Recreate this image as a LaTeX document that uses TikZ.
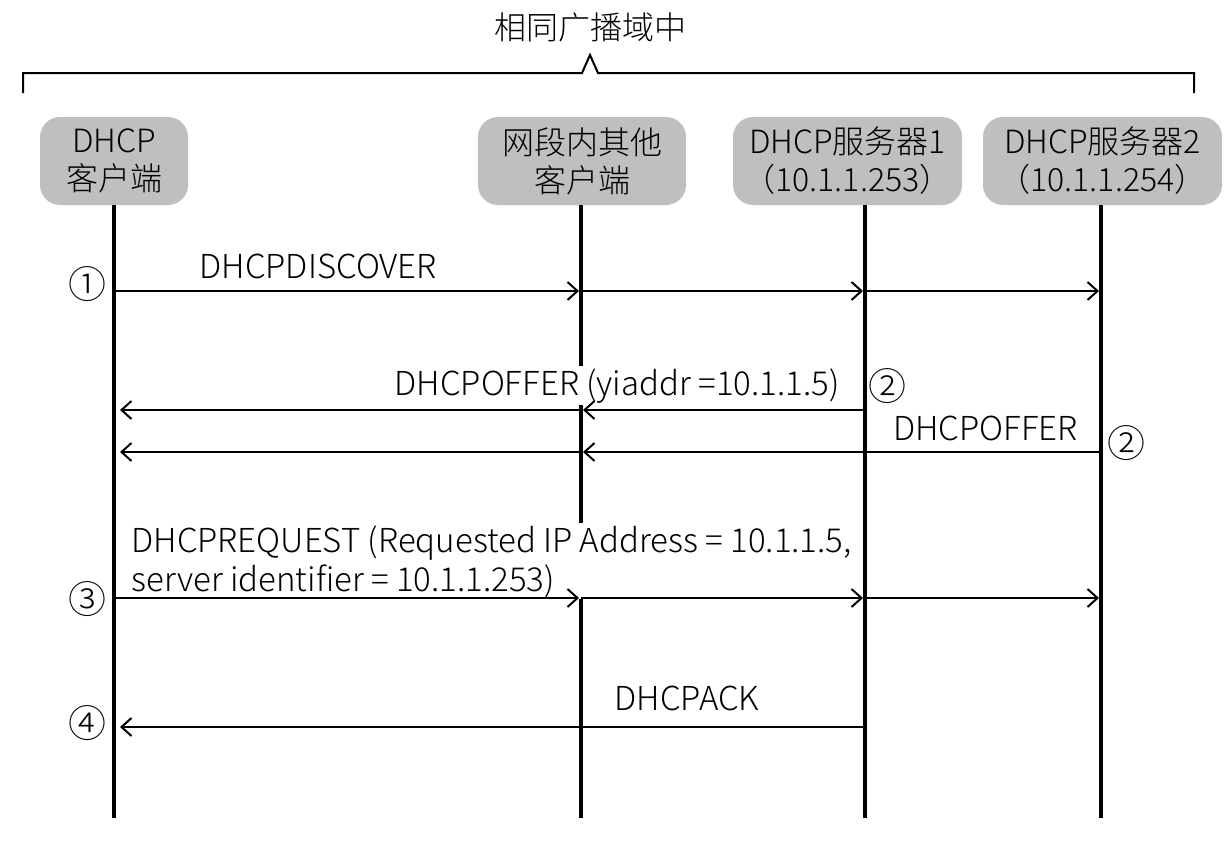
\documentclass[tikz,border=0pt]{standalone}
\usepackage{fontspec}
\newfontfamily\cjk{Noto Sans CJK SC}[UprightFont={* Light}]
\usetikzlibrary{arrows.meta,positioning}
\tikzset{
    host/.style={fill=black!25, rounded corners=10pt, align=center, inner sep=0pt,
        minimum height=44pt, font=\cjk\fontsize{16}{19}\selectfont},
    lifeline/.style={line width=2pt},
    msg/.style={line width=1pt, shorten >=1pt, -{Straight Barb[length=5pt,width=9pt]}},
    msgtext/.style={fill=white, inner sep=1pt, anchor=base west, align=left,
        font=\cjk\fontsize{16.5}{19.5}\selectfont},
    stepno/.style={inner sep=0pt, font=\cjk\fontsize{19}{19}\selectfont},
}

\begin{document}
\begin{tikzpicture}[x=0.5pt, y=-0.5pt]
    \useasboundingbox (0,0) rectangle (1226,846);

    \node [font=\cjk\fontsize{16}{19}\selectfont] (domain) at (590,27) {相同广播域中};
    \draw [line width=1pt] (23,93) -- (23,73) -- (582,73) -- (590,55) -- (598,73) -- (1194,73) -- (1194,93);

    \node [host, minimum width=74pt] (client) at (114,161) {DHCP\\客户端};
    \node [host, minimum width=104pt] (others) at (582,161) {网段内其他\\客户端};
    \node [host, minimum width=114.5pt] (srv1) at (847.5,161) {DHCP服务器1\\（10.1.1.253）};
    \node [host, minimum width=119.5pt] (srv2) at (1102.5,161) {DHCP服务器2\\（10.1.1.254）};

    \foreach \n/\x in {client/114, others/581, srv1/865, srv2/1101} {
        \coordinate (\n-end) at (\x,818);
        \foreach \r/\y in {disc/291, offa/410, offb/452, req/598, ack/727}
            \coordinate (\n-\r) at (\x,\y);
        \draw [lifeline] (\n-end |- \n.south) -- (\n-end);
    }

    \node [msgtext] (disc-text) at (197,278) {DHCPDISCOVER};
    \node [msgtext, anchor=base east] (offa-text) at (842,395) {DHCPOFFER (yiaddr =10.1.1.5)};
    \node [msgtext, anchor=base east] (offb-text) at (1080,440) {DHCPOFFER};
    \node [msgtext] (req-text) at (129,591) {DHCPREQUEST (Requested IP Address = 10.1.1.5,\\server identifier = 10.1.1.253)};
    \node [msgtext] (ack-text) at (612,710) {DHCPACK};

    \node [stepno] (step1) at (87,284) {①};
    \node [stepno] (step2a) at (887,386) {②};
    \node [stepno] (step2b) at (1126,443) {②};
    \node [stepno] (step3) at (87,599) {③};
    \node [stepno] (step4) at (87,723) {④};

    \draw [msg] (client-disc) -- (others-disc);
    \draw [msg] (others-disc) -- (srv1-disc);
    \draw [msg] (srv1-disc) -- (srv2-disc);
    \draw [msg] (srv1-offa) -- (others-offa);
    \draw [msg, shorten >=3pt] (others-offa) -- (client-offa);
    \draw [msg] (srv2-offb) -- (others-offb);
    \draw [msg, shorten >=3pt] (others-offb) -- (client-offb);
    \draw [msg] (client-req) -- (others-req);
    \draw [msg] (others-req) -- (srv1-req);
    \draw [msg] (srv1-req) -- (srv2-req);
    \draw [msg, shorten >=3pt] (srv1-ack) -- (client-ack);
\end{tikzpicture}
\end{document}
